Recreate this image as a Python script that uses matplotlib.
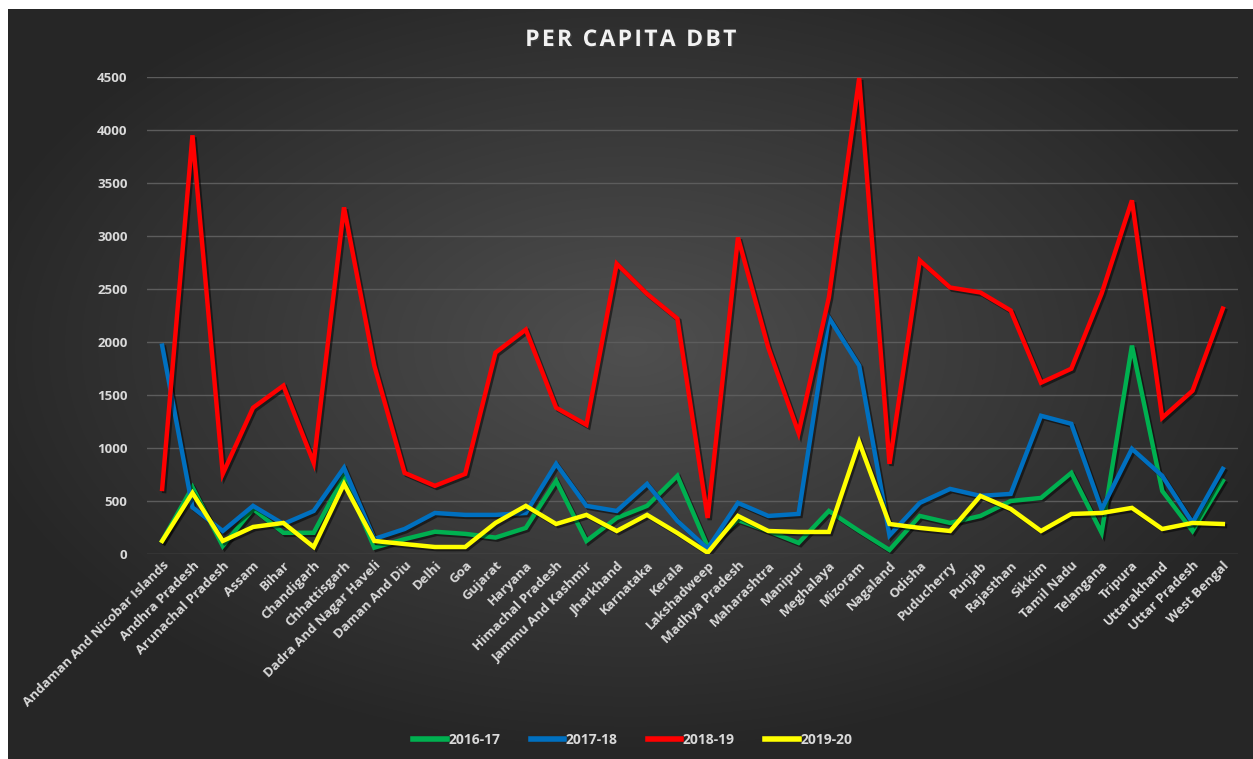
import matplotlib
matplotlib.use("Agg")
import matplotlib.pyplot as plt
import matplotlib.patheffects as pe
import numpy as np

states = ["Andaman And Nicobar Islands", "Andhra Pradesh", "Arunachal Pradesh", "Assam", "Bihar",
          "Chandigarh", "Chhattisgarh", "Dadra And Nagar Haveli", "Daman And Diu", "Delhi", "Goa",
          "Gujarat", "Haryana", "Himachal Pradesh", "Jammu And Kashmir", "Jharkhand", "Karnataka",
          "Kerala", "Lakshadweep", "Madhya Pradesh", "Maharashtra", "Manipur", "Meghalaya", "Mizoram",
          "Nagaland", "Odisha", "Puducherry", "Punjab", "Rajasthan", "Sikkim", "Tamil Nadu",
          "Telangana", "Tripura", "Uttarakhand", "Uttar Pradesh", "West Bengal"]

y1617 = [125, 630, 75, 425, 200, 200, 735, 60, 140, 210, 190, 155, 246, 690, 123, 340, 454, 737,
         70, 320, 217, 104, 406, 217, 38, 359, 293, 359, 500, 529, 765, 200, 1966, 595, 217, 690]
y1718 = [1966, 440, 217, 454, 283, 406, 813, 142, 236, 387, 369, 369, 387, 850, 454, 406, 661, 312,
         50, 482, 359, 378, 2230, 1777, 175, 482, 614, 548, 567, 1304, 1228, 420, 992, 737, 295, 803]
y1819 = [614, 3950, 756, 1380, 1588, 860, 3270, 1777, 765, 643, 756, 1900, 2117, 1380, 1219, 2738,
         2454, 2221, 340, 2986, 1947, 1143, 2420, 4490, 851, 2770, 2514, 2467, 2297, 1616, 1748,
         2457, 3336, 1285, 1540, 2315]
y1920 = [123, 576, 123, 255, 293, 66, 661, 123, 94, 66, 66, 293, 454, 283, 369, 217, 369, 198,
         12, 359, 217, 208, 208, 1055, 283, 246, 217, 548, 425, 217, 378, 387, 435, 236, 293, 283]

series = ["2016-17", "2017-18", "2018-19", "2019-20"]
colors = ["#00B050", "#0070C0", "#FF0000", "#FFFF00"]

W, H = 1253, 759
fig = plt.figure(figsize=(W / 100, H / 100), dpi=100, facecolor="white")

# dark radial background
bg = fig.add_axes([8 / W, 0, 1 - 8 / W, 1 - 9 / H])
bg.set_axis_off()
gx, gy = np.meshgrid(np.linspace(0, 1, 400), np.linspace(0, 1, 250))
r = np.sqrt(((gx - 0.5) / 0.75) ** 2 + ((gy - 0.45) / 0.75) ** 2)
shade = np.clip(0.31 - 0.22 * r, 0.15, 0.31)
bg.imshow(np.dstack([shade, shade, shade]), aspect="auto", extent=[0, 1, 0, 1], interpolation="bilinear")

ax = fig.add_axes([147 / W, 1 - 554 / H, (1238 - 147) / W, (554 - 77) / H])
ax.patch.set_alpha(0)

x = np.arange(len(states))
shadow = [pe.SimpleLineShadow(offset=(1.5, -1.5), shadow_color="black", alpha=0.5), pe.Normal()]
for vals, name, c in zip([y1617, y1718, y1819, y1920], series, colors):
    ax.plot(x, vals, color=c, lw=3.2, label=name, solid_joinstyle="miter", path_effects=shadow)

ax.set_xlim(-0.5, len(states) - 0.5)
ax.set_ylim(0, 4500)
ax.set_yticks(range(0, 4501, 500))
ax.grid(axis="y", color="#5c5c5c", lw=1)
ax.set_axisbelow(True)
for s in ax.spines.values():
    s.set_visible(False)
ax.tick_params(length=0, colors="#d9d9d9", labelsize=9.5)
ax.tick_params(axis="y", pad=14)
ax.set_xticks(x)
ax.set_xticklabels(states, rotation=45, ha="right", rotation_mode="anchor", fontsize=9.5)
for lab in ax.get_xticklabels() + ax.get_yticklabels():
    lab.set_fontweight("bold")
    lab.set_family("Open Sans")
    lab.set_color("#d9d9d9")

title = "\u200a".join("PER CAPITA DBT")
fig.text(0.503, 1 - 40 / H, title, ha="center", va="center",
         fontsize=16.5, fontweight="bold", color="#f2f2f2", family=["Open Sans", "DejaVu Sans"],
         path_effects=[pe.withSimplePatchShadow(offset=(1, -1), alpha=0.5)])

leg = fig.legend(loc="center", bbox_to_anchor=(0.505, 1 - 740 / H), ncol=4, frameon=False,
                 handlelength=2.4, handletextpad=0.1, columnspacing=2.2,
                 prop={"family": "Open Sans", "weight": "bold", "size": 10})
for t in leg.get_texts():
    t.set_color("#d9d9d9")
for l in leg.get_lines():
    l.set_linewidth(4)
    l.set_path_effects([])

fig.savefig("out.png", dpi=100, facecolor="white")
